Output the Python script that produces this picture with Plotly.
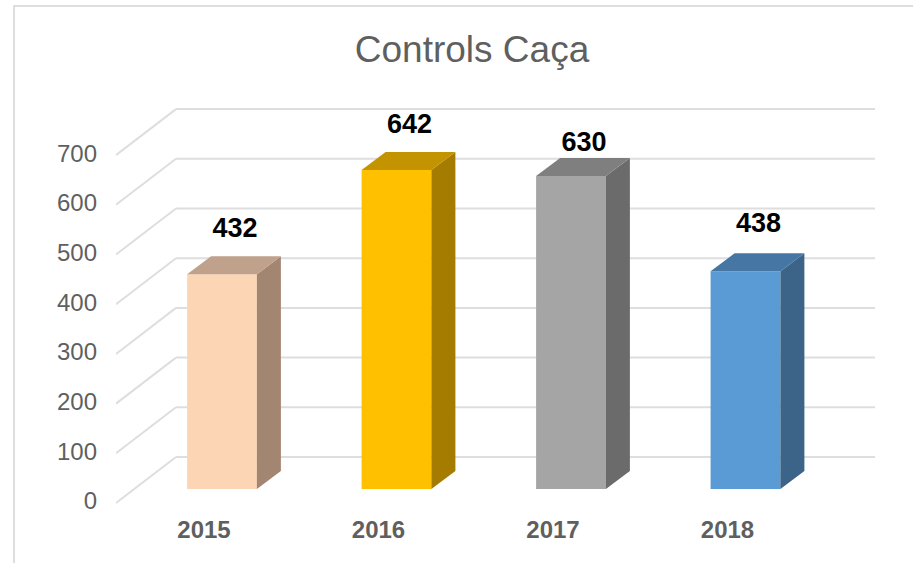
import plotly.graph_objects as go

# ---- data ----
years = ["2015", "2016", "2017", "2018"]
values = [432, 642, 630, 438]
axis_ticks = [0, 100, 200, 300, 400, 500, 600, 700]
label_rise = [88, 88, 64, 92]      # height of each label above its bar, value units
front_colors = ["#FCD5B5", "#FFC000", "#A5A5A5", "#5B9BD5"]
side_colors = ["#A38671", "#A67C00", "#6B6B6B", "#3B6488"]
top_colors = ["#BFA18C", "#C49300", "#7F7F7F", "#4677A4"]

# ---- layout constants ----
W, H = 913, 563
L, R, T, B = 116, 38, 60, 53
PX_X = 174.5      # pixels per category
PX_Y = 0.497      # pixels per value unit
X0_PX, Y0_PX = 222, 489
BAR_W = 0.4
DEPTH_X, DEPTH_Y = 24 / PX_X, 18 / PX_Y
x_range = [(L - X0_PX) / PX_X, (W - R - X0_PX) / PX_X]
y_range = [(Y0_PX - (H - B)) / PX_Y, (Y0_PX - T) / PX_Y]
# where the floor meets the back wall and the front edge of the side wall
BACK_Y = 32 / PX_Y
FRONT_Y = -14 / PX_Y
BACK_X = x_range[0] + 60 / PX_X
LABEL_SHIFT = 12 / PX_Y
LABEL_DX = 13 / PX_X
TICK_DX = -18 / PX_X

positions = list(range(len(years)))
GRID = "#DEDEDE"
TEXT = "#5F5F5F"
FONT = "Liberation Sans, Arial, sans-serif"

fig = go.Figure()

# front faces
fig.add_trace(go.Bar(x=positions, y=values, width=BAR_W, marker=dict(color=front_colors, line_width=0),
                     showlegend=False, hoverinfo="x+y"))

# side and top faces, derived from the values
for p, v, sc, tc in zip(positions, values, side_colors, top_colors):
    r = p + BAR_W / 2
    l = p - BAR_W / 2
    fig.add_trace(go.Scatter(x=[r, r + DEPTH_X, r + DEPTH_X, r, r], y=[0, DEPTH_Y, v + DEPTH_Y, v, 0],
                             mode="lines", fill="toself", fillcolor=sc, line=dict(width=0),
                             showlegend=False, hoverinfo="skip"))
    fig.add_trace(go.Scatter(x=[l, r, r + DEPTH_X, l + DEPTH_X, l], y=[v, v, v + DEPTH_Y, v + DEPTH_Y, v],
                             mode="lines", fill="toself", fillcolor=tc, line=dict(width=0),
                             showlegend=False, hoverinfo="skip"))

# data labels
fig.add_trace(go.Scatter(x=[p + LABEL_DX for p in positions],
                         y=[v + d for v, d in zip(values, label_rise)],
                         mode="text", text=[str(v) for v in values], textposition="middle center",
                         textfont=dict(family=FONT, size=27, color="#000000", weight="bold"),
                         showlegend=False, hoverinfo="skip", cliponaxis=False))

# value axis labels sit on the front edge of the wall
fig.add_trace(go.Scatter(x=[positions[0]] * len(axis_ticks), y=axis_ticks, yaxis="y2", mode="markers",
                         marker=dict(opacity=0, size=1), showlegend=False, hoverinfo="skip"))

shapes = []
for t in axis_ticks:
    # side-wall diagonal and back-wall gridline
    shapes.append(dict(type="line", layer="below", xref="x", yref="y", x0=x_range[0], x1=BACK_X,
                       y0=t + FRONT_Y, y1=t + BACK_Y, line=dict(color=GRID, width=2)))
    shapes.append(dict(type="line", layer="below", xref="x", yref="y", x0=BACK_X, x1=x_range[1],
                       y0=t + BACK_Y, y1=t + BACK_Y, line=dict(color=GRID, width=2)))

# outer chart border (left and top only)
pw, ph = W - L - R, H - T - B
fx = lambda px: (px - L) / pw
fy = lambda py: (H - B - py) / ph
shapes.append(dict(type="line", xref="paper", yref="paper", x0=fx(14), x1=fx(14), y0=fy(5), y1=fy(H),
                   line=dict(color=GRID, width=2)))
shapes.append(dict(type="line", xref="paper", yref="paper", x0=fx(14), x1=fx(W), y0=fy(6), y1=fy(6),
                   line=dict(color=GRID, width=2)))

fig.update_layout(
    width=W, height=H, margin=dict(l=L, r=R, t=T, b=B, pad=0),
    paper_bgcolor="white", plot_bgcolor="white", showlegend=False,
    title=dict(text="Controls Caça", x=472 / W, y=1 - 49 / H, xanchor="center", yanchor="middle",
               xref="container", font=dict(family=FONT, size=37, color=TEXT)),
    xaxis=dict(range=x_range, tickmode="array", tickvals=[p + TICK_DX for p in positions], ticktext=years,
               showgrid=False, zeroline=False, showline=False, ticks="", ticklabelstandoff=3,
               tickfont=dict(family=FONT, size=24, color=TEXT, weight="bold")),
    yaxis=dict(range=y_range, showgrid=False, zeroline=False, showline=False, showticklabels=False, ticks=""),
    yaxis2=dict(range=[y_range[0] + LABEL_SHIFT, y_range[1] + LABEL_SHIFT], overlaying="y", side="left",
                anchor="x", tickmode="array", tickvals=axis_ticks, showgrid=False, zeroline=False,
                showline=False, ticks="", ticklabelstandoff=18,
                tickfont=dict(family=FONT, size=24, color=TEXT)),
    shapes=shapes,
)

fig.write_html("out.html", config={"displayModeBar": False},
               post_script="document.body.style.margin='0';document.body.style.overflow='hidden';")
